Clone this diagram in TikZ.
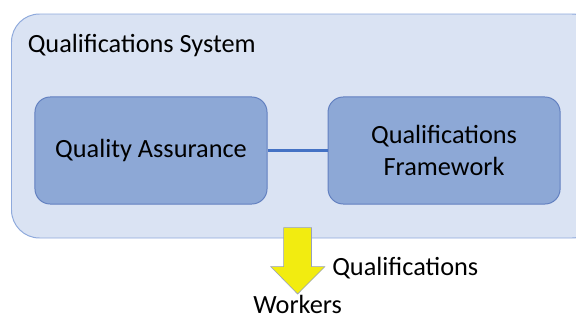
\documentclass[tikz,border=0pt]{standalone}
\usepackage{fontspec}
\setmainfont{Carlito}
\usetikzlibrary{positioning}

\definecolor{sysfill}{RGB}{218,227,243}
\definecolor{sysline}{RGB}{143,170,220}
\definecolor{partfill}{RGB}{141,168,214}
\definecolor{partline}{RGB}{98,128,192}
\definecolor{linkblue}{RGB}{68,114,196}
\definecolor{flowyellow}{RGB}{242,236,16}
\definecolor{flowline}{RGB}{150,160,190}

\newcommand{\bigtext}{\fontsize{18.7}{22.5}\selectfont}
\tikzset{
	sysbox/.style={draw=sysline, fill=sysfill, line width=0.7pt, rounded corners=0.7cm},
	partbox/.style={draw=partline, fill=partfill, line width=0.7pt, rounded corners=0.38cm,
		minimum width=5.8cm, minimum height=2.675cm, align=center, font=\bigtext},
	label/.style={font=\bigtext, inner sep=0pt},
	link/.style={draw=linkblue, line width=2.3pt}
}

\begin{document}
\begin{tikzpicture}[x=0.025cm, y=-0.025cm]
				\useasboundingbox (0,0) rectangle (576,322);
				\clip (0,0) rectangle (576,322);
				
				\draw[sysbox] (11.5,14) rectangle (600,238);
				\node[label, anchor=base west] (sys) at (27.5,52) {Qualifications System};
				
				\node[partbox] (qa) at (151,150.5) {Quality Assurance};
				\node[partbox, right=1.5cm of qa] (qf) {Qualifications\\Framework};
				\draw[link] (qa) -- (qf);
				
				\draw[fill=flowyellow, draw=flowline, line width=0.4pt] (283.6,227.7) -- (311.5,227.7) -- (311.5,266.7) -- (324.8,266.7) -- (297.6,294) -- (270.8,266.7) -- (283.6,266.7) -- cycle;
				\coordinate (tip) at (297.6,294);
				
				\node[label, anchor=base west] (qual) at (332,275) {Qualifications};
				\node[label, anchor=base] (work) at (tip |- 0,313) {Workers};
			\end{tikzpicture}
\end{document}
